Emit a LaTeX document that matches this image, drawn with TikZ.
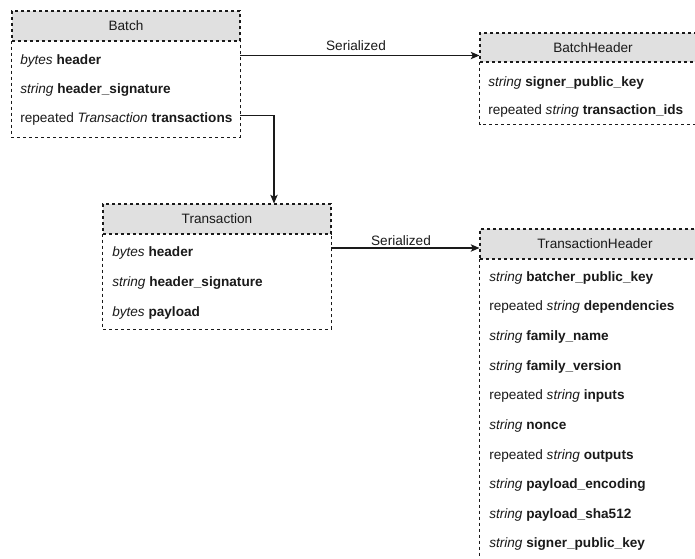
\documentclass[tikz,border=0pt]{standalone}
\usepackage{fontspec}
\setmainfont{Liberation Sans}
\usetikzlibrary{arrows.meta,fit}
\definecolor{hdrfill}{HTML}{E0E0E0}
\definecolor{ink}{HTML}{1A1A1A}
\newcommand\argtype[1]{\textit{#1}}
\newcommand\argname[1]{\textbf{#1}}

\begin{document}
\begin{tikzpicture}[x=0.75pt,y=-0.75pt,
  font=\fontsize{10.2pt}{12pt}\selectfont,
  boxline/.style={draw=ink, line width=0.8pt, dash pattern=on 2.25pt off 2.25pt},
  titlebar/.style={boxline, fill=hdrfill, inner sep=0pt},
  bodyarea/.style={inner sep=0pt},
  field/.style={anchor=west, inner sep=0pt, text=ink, text height=7.3pt, text depth=0pt},
  title/.style={inner sep=0pt, text=ink, text height=7.3pt, text depth=0pt},
  conn/.style={draw=ink, line width=0.8pt},
  arr/.style={conn, -{Stealth[length=6.5pt,width=5.5pt,inset=1.5pt]}},
  lbl/.style={inner sep=0pt, text=ink, text height=7.3pt, text depth=0pt}]

\useasboundingbox (0,0) rectangle (695,558);
\fill[white] (0,0) rectangle (695,558);
\clip (0,0) rectangle (695,558);

% ---------- Batch ----------
\node[titlebar, fit={(12,11) (240,41)}] (batchT) {};
\node[bodyarea, fit={(12,41) (240,137)}] (batchB) {};
\draw[boxline] (batchB.north west) -- (batchB.south west) -- (batchB.south east) -- (batchB.north east);
\node[title] (batchName) at (batchT.center) {Batch};
\node[field] (b1) at (20,59.5) {\argtype{bytes} \argname{header}};
\node[field] (b2) at (20,89) {\argtype{string} \argname{header\_signature}};
\node[field] (b3) at (20,118) {repeated \argtype{Transaction} \argname{transactions}};

% ---------- BatchHeader ----------
\node[titlebar, fit={(480,33) (706,62)}] (bhT) {};
\node[bodyarea, fit={(480,62) (706,124)}] (bhB) {};
\draw[boxline] (bhB.north west) -- (bhB.south west) -- (bhB.south east) -- (bhB.north east);
\node[title] (bhName) at (bhT.center) {BatchHeader};
\node[field] (bh1) at (488,81.5) {\argtype{string} \argname{signer\_public\_key}};
\node[field] (bh2) at (488,109.5) {repeated \argtype{string} \argname{transaction\_ids}};

% ---------- Transaction ----------
\node[titlebar, fit={(103,204) (331,234)}] (txT) {};
\node[bodyarea, fit={(103,234) (331,329)}] (txB) {};
\draw[boxline] (txB.north west) -- (txB.south west) -- (txB.south east) -- (txB.north east);
\node[title] (txName) at (txT.center) {Transaction};
\node[field] (t1) at (112,252) {\argtype{bytes} \argname{header}};
\node[field] (t2) at (112,282) {\argtype{string} \argname{header\_signature}};
\node[field] (t3) at (112,312) {\argtype{bytes} \argname{payload}};

% ---------- TransactionHeader ----------
\node[titlebar, fit={(480,229) (710,259)}] (thT) {};
\node[bodyarea, fit={(480,259) (710,575)}] (thB) {};
\draw[boxline] (thB.north west) -- (thB.south west) -- (thB.south east) -- (thB.north east);
\node[title] (thName) at (thT.center) {TransactionHeader};
\node[field] (h1)  at (489,276.5) {\argtype{string} \argname{batcher\_public\_key}};
\node[field] (h2)  at (489,306)   {repeated \argtype{string} \argname{dependencies}};
\node[field] (h3)  at (489,336)   {\argtype{string} \argname{family\_name}};
\node[field] (h4)  at (489,365.5) {\argtype{string} \argname{family\_version}};
\node[field] (h5)  at (489,395)   {repeated \argtype{string} \argname{inputs}};
\node[field] (h6)  at (489,425)   {\argtype{string} \argname{nonce}};
\node[field] (h7)  at (489,454.5) {repeated \argtype{string} \argname{outputs}};
\node[field] (h8)  at (489,484)   {\argtype{string} \argname{payload\_encoding}};
\node[field] (h9)  at (489,513.5) {\argtype{string} \argname{payload\_sha512}};
\node[field] (h10) at (489,543)   {\argtype{string} \argname{signer\_public\_key}};

% ---------- connectors ----------
\coordinate (rowA) at (0,55.5);
\coordinate (bend) at (274,115.5);
\coordinate (rowB) at (0,248);

\draw[arr] (batchB.east |- rowA) -- (bhT.west |- rowA);
\node[lbl] (ser1) at (356,46) {Serialized};

\draw[arr] (batchB.east |- bend) -| (txT.north -| bend);

\draw[arr] (txB.east |- rowB) -- (thT.west |- rowB);
\node[lbl] (ser2) at (401,241) {Serialized};

\end{tikzpicture}
\end{document}
